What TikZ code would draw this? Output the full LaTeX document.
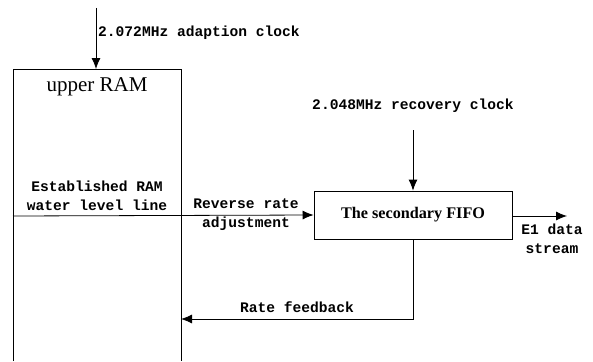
\documentclass[tikz,border=0pt]{standalone}
\usepackage{fontspec}
\setmainfont{Liberation Serif}
\setmonofont{Liberation Mono}
\usetikzlibrary{arrows.meta}
\begin{document}
\begin{tikzpicture}[x=1pt,y=-1pt,
  line/.style={draw=black,line width=0.8pt},
  arr/.style={line,-{Latex[length=11pt,width=9pt]}},
  lbl/.style={font=\fontsize{14.6}{20}\selectfont\ttfamily\bfseries,inner sep=0pt,align=center},
  box/.style={draw=black,line width=0.8pt,minimum width=198pt,minimum height=48pt,inner sep=0pt,
    font=\fontsize{16.2}{18}\selectfont\bfseries}]
\useasboundingbox (0,0) rectangle (593,361);
% upper RAM box (open at bottom)
\coordinate (ramBL) at (13,361);
\coordinate (ramTL) at (13,69);
\coordinate (ramTR) at (181,69);
\coordinate (ramBR) at (181,361);
\draw[line] (ramBL) -- (ramTL) -- (ramTR) -- (ramBR);
\node[font=\fontsize{21}{24}\selectfont,inner sep=0pt] (ramlbl) at (97,87) {upper RAM};
% adaption clock
\coordinate (clkA) at (96,8);
\coordinate (ramIn) at (96,69);
\draw[arr] (clkA) -- (ramIn);
\node[lbl,anchor=west] (clkAlbl) at (98,33) {2.072MHz adaption clock};
% water level line
\coordinate (wlL) at (13,216);
\node[lbl] (wllbl) at (97,196) {Established RAM\\[-1pt]water level line};
% FIFO
\node[box] (fifo) at (413,215) {The secondary FIFO};
\draw[arr] (wlL) -- (fifo.west);
\node[lbl] (revlbl) at (246,215) {Reverse rate\\[-1pt]adjustment};
% recovery clock
\coordinate (clkR) at (413,130);
\draw[arr] (clkR) -- (fifo.north);
\node[lbl] (clkRlbl) at (413,106) {2.048MHz recovery clock};
% E1 output
\coordinate (e1) at (567,216);
\draw[arr] (fifo.east |- e1) -- (e1);
\node[lbl] (e1lbl) at (552,239) {E1 data\\[-1pt]stream};
% feedback
\coordinate (fbC) at (413,319);
\coordinate (fbE) at (181,319);
\draw[arr] (fifo.south) -- (fbC) -- (fbE);
\node[lbl] (fblbl) at (297,307) {Rate feedback};
\end{tikzpicture}
\end{document}
